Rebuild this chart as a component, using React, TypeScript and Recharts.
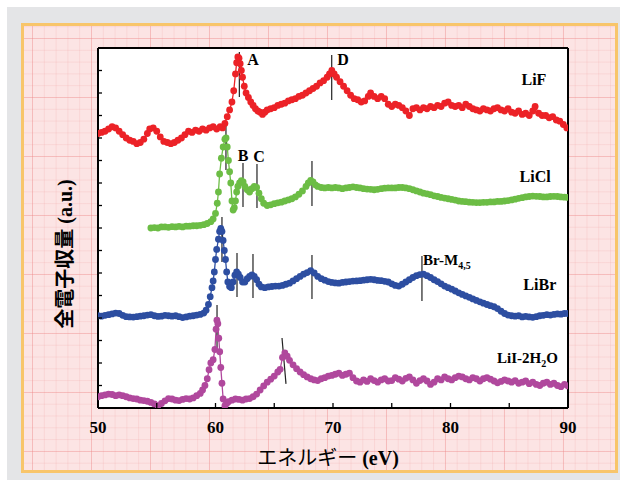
import React from 'react';
import { LineChart, Line, XAxis, YAxis, CartesianGrid, ReferenceLine, ReferenceDot } from 'recharts';

// energy (eV), yield (a.u., stacked offsets)
const lif: [number, number][] = [
  [50.0, 12.2], [50.3, 12.25], [50.6, 12.3], [50.9, 12.4], [51.2, 12.5], [51.5, 12.45], [51.8, 12.3], [52.1, 12.15],
  [52.4, 12.0], [52.7, 11.9], [53.0, 11.85], [53.3, 11.75], [53.6, 11.8], [53.9, 11.95], [54.2, 12.2], [54.4, 12.4],
  [54.7, 12.45], [55.0, 12.3], [55.3, 12.05], [55.6, 11.85], [55.9, 11.8], [56.2, 11.75], [56.5, 11.8], [56.8, 11.9],
  [57.1, 12.0], [57.4, 12.15], [57.7, 12.3], [58.0, 12.25], [58.3, 12.35], [58.6, 12.3], [58.9, 12.4], [59.2, 12.35],
  [59.5, 12.45], [59.8, 12.5], [60.1, 12.4], [60.4, 12.5], [60.6, 12.45], [60.8, 12.65], [61.0, 12.95], [61.2, 13.25],
  [61.4, 13.6], [61.55, 14.1], [61.7, 14.85], [61.8, 15.35], [61.9, 15.6], [62.0, 15.55], [62.1, 15.3], [62.2, 15.0],
  [62.3, 14.7], [62.45, 14.3], [62.6, 14.0], [62.8, 13.8], [63.0, 13.6], [63.2, 13.45], [63.4, 13.3], [63.6, 13.2],
  [63.8, 13.15], [64.0, 13.05], [64.2, 13.15], [64.4, 13.25], [64.7, 13.3], [65.0, 13.35], [65.3, 13.45], [65.6, 13.5],
  [65.9, 13.55], [66.2, 13.65], [66.5, 13.7], [66.8, 13.75], [67.1, 13.85], [67.4, 13.9], [67.7, 14.0], [68.0, 14.1],
  [68.3, 14.2], [68.6, 14.3], [68.9, 14.45], [69.2, 14.55], [69.5, 14.7], [69.7, 14.85], [69.9, 15.0], [70.1, 14.85],
  [70.3, 14.7], [70.6, 14.5], [70.9, 14.3], [71.2, 14.1], [71.5, 13.9], [71.8, 13.75], [72.1, 13.7], [72.4, 13.6],
  [72.7, 13.65], [73.0, 13.85], [73.2, 14.0], [73.5, 13.85], [73.8, 13.75], [74.1, 13.85], [74.4, 13.75], [74.7, 13.5],
  [75.0, 13.4], [75.3, 13.5], [75.6, 13.45], [75.9, 13.35], [76.2, 13.2], [76.5, 13.0], [76.8, 13.3], [77.1, 13.35],
  [77.4, 13.25], [77.7, 13.35], [78.0, 13.3], [78.3, 13.4], [78.6, 13.35], [78.9, 13.45], [79.2, 13.4], [79.5, 13.55],
  [79.8, 13.6], [80.1, 13.45], [80.4, 13.4], [80.7, 13.45], [81.0, 13.35], [81.3, 13.5], [81.6, 13.4], [81.9, 13.3],
  [82.2, 13.25], [82.5, 13.2], [82.8, 13.3], [83.1, 13.25], [83.4, 13.2], [83.7, 13.3], [84.0, 13.35], [84.3, 13.25],
  [84.6, 13.2], [84.9, 13.3], [85.2, 13.15], [85.5, 13.1], [85.8, 13.2], [86.1, 13.05], [86.4, 13.1], [86.7, 13.0],
  [87.0, 13.2], [87.2, 13.4], [87.5, 13.1], [87.8, 13.0], [88.1, 13.0], [88.4, 12.9], [88.7, 12.95], [89.0, 12.8],
  [89.3, 12.75], [89.6, 12.6], [89.9, 12.45],
];

const licl: [number, number][] = [
  [54.5, 8.0], [54.8, 8.02], [55.1, 8.0], [55.4, 8.05], [55.7, 8.05], [56.0, 8.03], [56.3, 8.06], [56.6, 8.05],
  [56.9, 8.07], [57.2, 8.05], [57.5, 8.08], [57.8, 8.08], [58.1, 8.1], [58.4, 8.1], [58.7, 8.12], [59.0, 8.15],
  [59.3, 8.2], [59.6, 8.28], [59.8, 8.4], [60.0, 8.65], [60.15, 9.1], [60.25, 9.6], [60.35, 10.4], [60.5, 11.1],
  [60.65, 11.6], [60.8, 11.95], [60.9, 12.0], [61.0, 11.6], [61.1, 11.0], [61.2, 10.5], [61.3, 10.0], [61.4, 9.2],
  [61.5, 8.8], [61.6, 8.9], [61.7, 9.2], [61.8, 9.6], [61.9, 9.85], [62.05, 10.0], [62.2, 10.1], [62.35, 10.05],
  [62.5, 9.85], [62.7, 9.7], [62.9, 9.6], [63.1, 9.75], [63.3, 9.85], [63.5, 9.8], [63.7, 9.55], [63.9, 9.3],
  [64.1, 9.1], [64.4, 9.0], [64.7, 9.03], [65.0, 9.08], [65.3, 9.12], [65.6, 9.15], [65.9, 9.2], [66.2, 9.25],
  [66.5, 9.3], [66.8, 9.38], [67.1, 9.5], [67.4, 9.65], [67.7, 9.85], [67.9, 10.0], [68.1, 10.12], [68.3, 10.05],
  [68.5, 9.92], [68.7, 9.85], [69.0, 9.8], [69.3, 9.78], [69.6, 9.8], [69.9, 9.78], [70.2, 9.8], [70.5, 9.78],
  [70.8, 9.75], [71.1, 9.78], [71.4, 9.8], [71.7, 9.83], [72.0, 9.8], [72.3, 9.78], [72.6, 9.75], [72.9, 9.73],
  [73.2, 9.72], [73.5, 9.7], [73.8, 9.72], [74.1, 9.75], [74.4, 9.77], [74.7, 9.78], [75.0, 9.78], [75.3, 9.78],
  [75.6, 9.8], [75.9, 9.8], [76.2, 9.78], [76.5, 9.75], [76.8, 9.7], [77.1, 9.65], [77.4, 9.6], [77.7, 9.55],
  [78.0, 9.52], [78.3, 9.48], [78.6, 9.43], [78.9, 9.4], [79.2, 9.36], [79.5, 9.33], [79.8, 9.3], [80.1, 9.27],
  [80.4, 9.24], [80.7, 9.2], [81.0, 9.18], [81.3, 9.17], [81.6, 9.15], [81.9, 9.14], [82.2, 9.13], [82.5, 9.13],
  [82.8, 9.14], [83.1, 9.14], [83.4, 9.16], [83.7, 9.16], [84.0, 9.18], [84.3, 9.18], [84.6, 9.2], [84.9, 9.22],
  [85.2, 9.25], [85.5, 9.28], [85.8, 9.32], [86.1, 9.35], [86.4, 9.38], [86.7, 9.4], [87.0, 9.42], [87.3, 9.41],
  [87.6, 9.4], [87.9, 9.38], [88.2, 9.38], [88.5, 9.4], [88.8, 9.41], [89.1, 9.4], [89.4, 9.38], [89.7, 9.37],
  [90.0, 9.36],
];

const libr: [number, number][] = [
  [50.0, 4.1], [50.3, 4.08], [50.6, 4.12], [50.9, 4.15], [51.2, 4.18], [51.5, 4.22], [51.8, 4.2], [52.1, 4.12],
  [52.4, 4.06], [52.7, 4.05], [53.0, 4.04], [53.3, 4.06], [53.6, 4.08], [53.9, 4.1], [54.2, 4.13], [54.5, 4.15],
  [54.8, 4.1], [55.1, 4.07], [55.4, 4.08], [55.7, 4.12], [56.0, 4.1], [56.3, 4.08], [56.6, 4.1], [56.9, 4.06],
  [57.2, 4.02], [57.5, 4.05], [57.8, 4.08], [58.1, 4.1], [58.4, 4.13], [58.7, 4.16], [59.0, 4.22], [59.2, 4.35],
  [59.4, 4.6], [59.55, 4.95], [59.7, 5.35], [59.8, 5.65], [59.9, 6.05], [60.0, 6.6], [60.1, 7.05], [60.25, 7.5],
  [60.35, 7.85], [60.45, 7.98], [60.55, 7.85], [60.65, 7.45], [60.75, 7.0], [60.85, 6.6], [60.95, 6.05], [61.05, 5.6],
  [61.2, 5.4], [61.35, 5.35], [61.5, 5.6], [61.65, 5.9], [61.8, 6.05], [61.95, 5.95], [62.1, 5.8], [62.3, 5.6],
  [62.5, 5.6], [62.7, 5.75], [62.9, 5.85], [63.1, 5.92], [63.3, 5.85], [63.5, 5.7], [63.7, 5.5], [63.9, 5.38],
  [64.2, 5.35], [64.5, 5.38], [64.8, 5.4], [65.1, 5.42], [65.4, 5.42], [65.7, 5.45], [66.0, 5.5], [66.3, 5.55],
  [66.6, 5.65], [66.9, 5.75], [67.2, 5.85], [67.5, 5.95], [67.8, 6.02], [68.1, 6.1], [68.4, 6.0], [68.7, 5.85],
  [69.0, 5.75], [69.3, 5.68], [69.6, 5.62], [69.9, 5.58], [70.2, 5.56], [70.5, 5.55], [70.8, 5.58], [71.1, 5.6],
  [71.4, 5.62], [71.7, 5.64], [72.0, 5.65], [72.3, 5.66], [72.6, 5.68], [72.9, 5.7], [73.2, 5.72], [73.5, 5.7],
  [73.8, 5.67], [74.1, 5.66], [74.4, 5.63], [74.7, 5.6], [75.0, 5.52], [75.3, 5.45], [75.6, 5.42], [75.9, 5.5],
  [76.2, 5.6], [76.5, 5.7], [76.8, 5.8], [77.1, 5.88], [77.4, 5.93], [77.7, 5.95], [78.0, 5.88], [78.3, 5.8],
  [78.6, 5.7], [78.9, 5.62], [79.2, 5.52], [79.5, 5.42], [79.8, 5.35], [80.1, 5.28], [80.4, 5.2], [80.7, 5.12],
  [81.0, 5.05], [81.3, 4.98], [81.6, 4.92], [81.9, 4.85], [82.2, 4.78], [82.5, 4.72], [82.8, 4.66], [83.1, 4.6],
  [83.4, 4.55], [83.7, 4.5], [84.0, 4.42], [84.3, 4.3], [84.6, 4.2], [84.9, 4.13], [85.2, 4.1], [85.5, 4.08],
  [85.8, 4.1], [86.1, 4.05], [86.4, 4.07], [86.7, 4.05], [87.0, 4.03], [87.3, 4.06], [87.6, 4.1], [87.9, 4.12],
  [88.2, 4.15], [88.5, 4.13], [88.8, 4.16], [89.1, 4.18], [89.4, 4.17], [89.7, 4.2], [90.0, 4.2],
];

const lii: [number, number][] = [
  [50.0, 0.5], [50.3, 0.55], [50.6, 0.58], [50.9, 0.62], [51.2, 0.6], [51.5, 0.55], [51.8, 0.58], [52.1, 0.55],
  [52.4, 0.5], [52.7, 0.45], [53.0, 0.42], [53.3, 0.4], [53.6, 0.35], [53.9, 0.33], [54.2, 0.3], [54.5, 0.25],
  [54.8, 0.18], [55.1, 0.1], [55.4, 0.2], [55.7, 0.32], [56.0, 0.42], [56.3, 0.4], [56.6, 0.35], [56.9, 0.33],
  [57.2, 0.38], [57.5, 0.42], [57.8, 0.4], [58.1, 0.45], [58.4, 0.55], [58.7, 0.65], [58.9, 0.8], [59.1, 1.0],
  [59.3, 1.3], [59.45, 1.7], [59.6, 2.0], [59.8, 2.15], [59.95, 2.6], [60.05, 3.5], [60.12, 3.9], [60.2, 3.75],
  [60.28, 3.1], [60.36, 2.5], [60.45, 1.8], [60.55, 1.1], [60.65, 0.4], [60.8, 0.1], [60.95, 0.2], [61.1, 0.28],
  [61.4, 0.35], [61.7, 0.4], [62.0, 0.38], [62.3, 0.35], [62.6, 0.4], [62.9, 0.42], [63.2, 0.5], [63.5, 0.62],
  [63.8, 0.8], [64.1, 0.98], [64.4, 1.15], [64.7, 1.28], [65.0, 1.42], [65.3, 1.6], [65.5, 1.72], [65.7, 2.25],
  [65.9, 2.45], [66.1, 2.3], [66.3, 2.12], [66.6, 1.92], [66.9, 1.75], [67.2, 1.6], [67.5, 1.48], [67.8, 1.38],
  [68.1, 1.3], [68.4, 1.25], [68.7, 1.22], [69.0, 1.3], [69.3, 1.35], [69.6, 1.42], [69.9, 1.45], [70.2, 1.5],
  [70.5, 1.55], [70.8, 1.45], [71.1, 1.5], [71.4, 1.55], [71.7, 1.35], [72.0, 1.2], [72.3, 1.15], [72.6, 1.25],
  [72.9, 1.18], [73.2, 1.3], [73.5, 1.22], [73.8, 1.15], [74.1, 1.25], [74.4, 1.3], [74.7, 1.2], [75.0, 1.22],
  [75.3, 1.35], [75.6, 1.28], [75.9, 1.2], [76.2, 1.32], [76.5, 1.38], [76.8, 1.25], [77.1, 1.1], [77.4, 1.22],
  [77.7, 1.3], [78.0, 1.2], [78.3, 1.05], [78.6, 1.15], [78.9, 1.3], [79.2, 1.25], [79.5, 1.38], [79.8, 1.3],
  [80.1, 1.25], [80.4, 1.35], [80.7, 1.42], [81.0, 1.38], [81.3, 1.3], [81.6, 1.25], [81.9, 1.35], [82.2, 1.3],
  [82.5, 1.2], [82.8, 1.3], [83.1, 1.35], [83.4, 1.28], [83.7, 1.2], [84.0, 1.12], [84.3, 1.18], [84.6, 1.25],
  [84.9, 1.2], [85.2, 1.15], [85.5, 1.22], [85.8, 1.1], [86.1, 1.15], [86.4, 1.2], [86.7, 1.08], [87.0, 1.15],
  [87.3, 1.05], [87.6, 1.0], [87.9, 1.1], [88.2, 1.15], [88.5, 1.05], [88.8, 1.1], [89.1, 1.0], [89.4, 0.95],
  [89.7, 1.05], [90.0, 0.98],
];

const xTicks = [50, 55, 60, 65, 70, 75, 80, 85, 90];
const yTicks = [0, 1, 2, 3, 4, 5, 6, 7, 8, 9, 10, 11, 12, 13, 14, 15, 16];

// peak marker segments: [x1, y1, x2, y2]
const markers: [number, number, number, number][] = [
  [62.03, 15.82, 62.03, 13.82],
  [69.89, 15.69, 69.89, 13.69],
  [60.89, 12.58, 60.89, 10.58],
  [62.34, 10.89, 62.34, 8.93],
  [63.53, 10.84, 63.53, 8.89],
  [68.21, 10.98, 68.21, 8.98],
  [60.55, 8.49, 60.55, 6.49],
  [61.83, 6.89, 61.83, 4.93],
  [63.19, 6.84, 63.19, 4.89],
  [68.21, 6.8, 68.21, 4.84],
  [77.57, 6.76, 77.57, 4.76],
  [60.13, 4.58, 60.13, 2.58],
  [65.66, 3.11, 66.0, 1.07],
];

const peakNames = [
  { t: 'A', x: 63.2, y: 15.47 },
  { t: 'D', x: 70.85, y: 15.47 },
  { t: 'B', x: 62.34, y: 11.24 },
  { t: 'C', x: 63.7, y: 11.2 },
];

const seriesNames = [
  { t: 'LiF', x: 87.1, y: 14.58 },
  { t: 'LiCl', x: 87.2, y: 10.27 },
  { t: 'LiBr', x: 87.6, y: 5.47 },
];

const SERIF = "'Liberation Serif', 'Times New Roman', serif";
const JP = "'Liberation Serif', 'Noto Sans CJK JP', serif";

const toPts = (arr: [number, number][]) => arr.map(([x, y]) => ({ x, y }));

const series = [
  { name: 'LiF', data: toPts(lif), color: '#ec2227' },
  { name: 'LiCl', data: toPts(licl), color: '#6cbd45' },
  { name: 'LiBr', data: toPts(libr), color: '#2d4ea1' },
  { name: 'LiI-2H2O', data: toPts(lii), color: '#b0489d' },
];

const BottomTick = (p: any) => {
  const { x, y, payload } = p;
  const major = payload.value % 10 === 0;
  return (
    <g>
      <line x1={x} x2={x} y1={y} y2={y - 5} stroke='#000' strokeWidth={1.3} />
      {major && (
        <text x={x} y={y + 25} textAnchor='middle' fontFamily={SERIF} fontWeight='bold' fontSize={17} fill='#000'>
          {payload.value}
        </text>
      )}
    </g>
  );
};

const TopTick = (p: any) => <line x1={p.x} x2={p.x} y1={p.y} y2={p.y + 5} stroke='#000' strokeWidth={1.3} />;
const LeftTick = (p: any) => <line x1={p.x} x2={p.x + 4} y1={p.y} y2={p.y} stroke='#000' strokeWidth={1.3} />;
const RightTick = (p: any) => <line x1={p.x} x2={p.x - 4} y1={p.y} y2={p.y} stroke='#000' strokeWidth={1.3} />;

const gridBg = {
  backgroundColor: '#fce4e4',
  backgroundImage: [
    'linear-gradient(rgba(238,140,140,0.35) 1px, transparent 1px)',
    'linear-gradient(90deg, rgba(238,140,140,0.35) 1px, transparent 1px)',
    'linear-gradient(rgba(240,160,160,0.22) 1px, transparent 1px)',
    'linear-gradient(90deg, rgba(240,160,160,0.22) 1px, transparent 1px)',
  ].join(','),
  backgroundSize: '59px 59px, 59px 59px, 11.8px 11.8px, 11.8px 11.8px',
  backgroundPosition: '8px 12px',
};

export default function App() {
  return (
    <div style={{ position: 'absolute', left: 0, top: 0, width: 629, height: 480, background: '#fff', overflow: 'hidden' }}>
      <div style={{ position: 'absolute', left: 7, top: 7, width: 613, height: 473, background: '#e4e5e7' }} />
      <div
        style={{
          position: 'absolute',
          left: 21,
          top: 23,
          width: 591,
          height: 444,
          border: '3px solid #f8c56a',
          ...gridBg,
        }}
      />
      <div style={{ position: 'absolute', left: 0, top: 0 }}>
        <LineChart width={629} height={480} margin={{ top: 46, right: 59, bottom: 42, left: 96 }}>
          <CartesianGrid horizontal={false} vertical={false} fill='#fff' stroke='none' />
          <XAxis
            dataKey='x'
            type='number'
            domain={[50, 90]}
            ticks={xTicks}
            interval={0}
            height={30}
            tickSize={0}
            tickMargin={0}
            tickLine={false}
            axisLine={{ stroke: '#000', strokeWidth: 2 }}
            tick={<BottomTick />}
            allowDataOverflow
          />
          <XAxis
            xAxisId='top'
            orientation='top'
            dataKey='x'
            type='number'
            domain={[50, 90]}
            ticks={xTicks}
            interval={0}
            height={2}
            tickSize={0}
            tickMargin={0}
            tickLine={false}
            axisLine={{ stroke: '#000', strokeWidth: 2 }}
            tick={<TopTick />}
          />
          <YAxis
            type='number'
            domain={[0, 16]}
            ticks={yTicks}
            interval={0}
            width={2}
            tickSize={0}
            tickMargin={0}
            tickLine={false}
            axisLine={{ stroke: '#000', strokeWidth: 2 }}
            tick={<LeftTick />}
            allowDataOverflow
          />
          <YAxis
            yAxisId='r'
            orientation='right'
            type='number'
            domain={[0, 16]}
            ticks={yTicks}
            interval={0}
            width={2}
            tickSize={0}
            tickMargin={0}
            tickLine={false}
            axisLine={{ stroke: '#000', strokeWidth: 2 }}
            tick={<RightTick />}
          />
          {series.map((s) => (
            <Line
              key={s.name}
              data={s.data}
              dataKey='y'
              name={s.name}
              stroke={s.color}
              strokeWidth={1.3}
              dot={{ r: 3.4, fill: s.color, stroke: 'none' }}
              activeDot={false}
              isAnimationActive={false}
            />
          ))}
          {markers.map((m, i) => (
            <ReferenceLine
              key={`m-${i}`}
              segment={[
                { x: m[0], y: m[1] },
                { x: m[2], y: m[3] },
              ]}
              stroke='#222'
              strokeWidth={1.2}
              ifOverflow='visible'
            />
          ))}
          {peakNames.map((l) => (
            <ReferenceDot
              key={l.t}
              x={l.x}
              y={l.y}
              r={0}
              ifOverflow='visible'
              shape={(p: any) => (
                <text x={p.cx} y={p.cy + 5.5} textAnchor='middle' fontFamily={SERIF} fontWeight='bold' fontSize={16} fill='#000'>
                  {l.t}
                </text>
              )}
            />
          ))}
          {seriesNames.map((l) => (
            <ReferenceDot
              key={l.t}
              x={l.x}
              y={l.y}
              r={0}
              ifOverflow='visible'
              shape={(p: any) => (
                <text x={p.cx} y={p.cy + 5.5} textAnchor='middle' fontFamily={SERIF} fontWeight='bold' fontSize={16} fill='#000'>
                  {l.t}
                </text>
              )}
            />
          ))}
          <ReferenceDot
            x={77.66}
            y={6.58}
            r={0}
            ifOverflow='visible'
            shape={(p: any) => (
              <text x={p.cx} y={p.cy + 5} fontFamily={SERIF} fontWeight='bold' fontSize={15} fill='#000'>
                Br-M
                <tspan fontSize={10} dy={4}>
                  4,5
                </tspan>
              </text>
            )}
          />
          <ReferenceDot
            x={83.96}
            y={2.22}
            r={0}
            ifOverflow='visible'
            shape={(p: any) => (
              <text x={p.cx} y={p.cy + 5} fontFamily={SERIF} fontWeight='bold' fontSize={15} fill='#000'>
                LiI-2H
                <tspan fontSize={10} dy={4}>
                  2
                </tspan>
                <tspan dy={-4}>O</tspan>
              </text>
            )}
          />
          <ReferenceDot
            x={50}
            y={0}
            r={0}
            ifOverflow='visible'
            shape={() => (
              <g>
                <text x={328} y={465} textAnchor='middle' fontFamily={JP} fontSize={20} fill='#000'>
                  エネルギー <tspan fontWeight='bold'>(eV)</tspan>
                </text>
                <text
                  x={65}
                  y={254}
                  transform='rotate(-90 65 254)'
                  textAnchor='middle'
                  dominantBaseline='central'
                  fontFamily={JP}
                  fontWeight='bold'
                  fontSize={20}
                  fill='#000'
                >
                  全電子収量 (a.u.)
                </text>
              </g>
            )}
          />
        </LineChart>
      </div>
    </div>
  );
}
